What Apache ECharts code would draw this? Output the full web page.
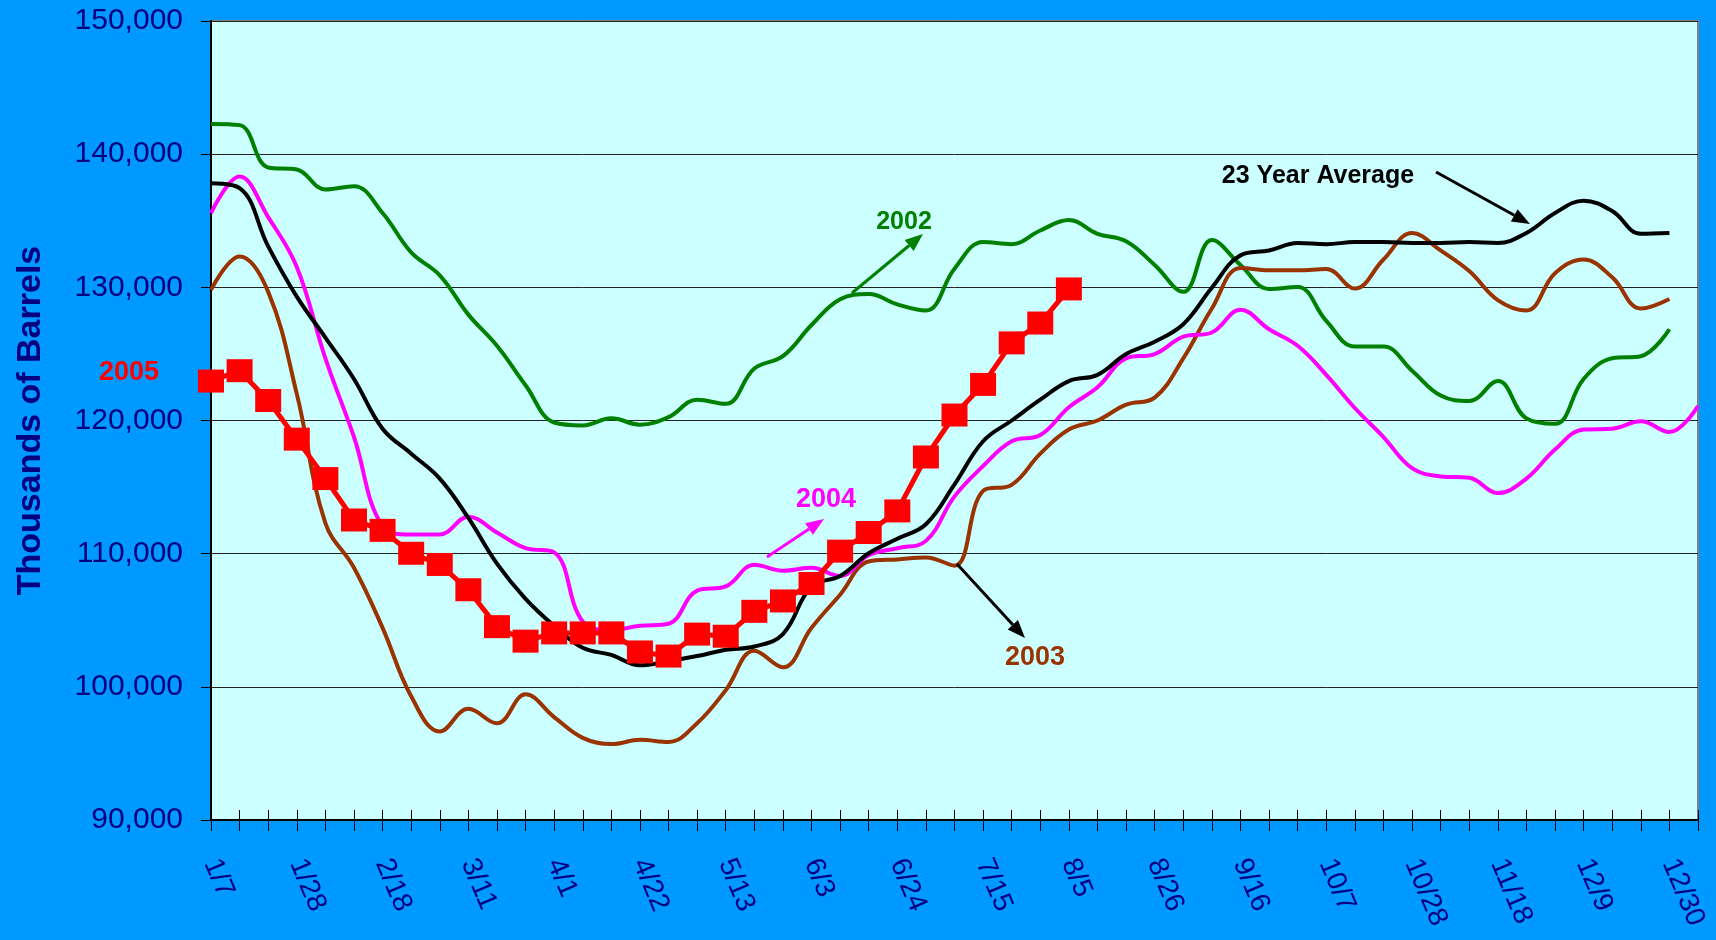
<!DOCTYPE html>
<html>
<head>
<meta charset="utf-8">
<title>Gasoline stocks</title>
<script src="https://cdn.jsdelivr.net/npm/echarts/dist/echarts.min.js"></script>
<style>
html,body{margin:0;padding:0;background:#0099FF;}
#main{width:1716px;height:940px;}
</style>
</head>
<body>
<div id="main"></div>
<script>
// weekly categories, 53 points (last one is unlabeled)
var weeks = ['1/7','1/14','1/21','1/28','2/4','2/11','2/18','2/25','3/4','3/11','3/18','3/25',
  '4/1','4/8','4/15','4/22','4/29','5/6','5/13','5/20','5/27','6/3','6/10','6/17','6/24',
  '7/1','7/8','7/15','7/22','7/29','8/5','8/12','8/19','8/26','9/2','9/9','9/16','9/23',
  '9/30','10/7','10/14','10/21','10/28','11/4','11/11','11/18','11/25','12/2','12/9',
  '12/16','12/23','12/30','1/6']

var y2002 = [142270,142180,139000,138850,137350,137600,135580,132620,130900,127950,125610,122650,
  119850,119630,120160,119690,120250,121560,121250,123900,124830,127170,129100,129500,128720,
  128260,131400,133400,133240,134270,135050,134020,133460,131680,129660,133550,131680,129880,
  130030,127480,125550,125550,123740,121870,121470,122960,120160,119750,123120,124670,124830,126850]

var y2003 = [129810,132310,129660,122000,112300,108940,104430,99290,96640,98350,97260,99440,
  97730,96170,95700,96020,95860,97270,99750,102710,101470,104430,106920,109410,109570,109720,
  109100,114710,115170,117510,119320,120000,121190,121720,124670,128410,131460,131280,131280,
  131370,129910,132090,134080,132770,131220,129040,128260,131060,132090,130750,128410,129130]

var y2004 = [135580,138320,135270,131530,124670,118760,112060,111440,111440,112770,111590,110410,
  110100,104900,104270,104580,104740,107230,107540,109160,108720,108940,108320,109880,110410,
  110960,114300,116580,118440,118910,121000,122490,124670,124990,126290,126610,128320,126850,
  125610,123430,120940,118760,116420,115800,115700,114550,115640,117820,119320,119380,119940,
  119130,121090]

var yAvg = [137820,137450,133080,129300,126230,123120,119380,117510,115640,112680,109250,106610,
  104580,102930,102400,101620,101930,102310,102780,103030,103960,107540,108320,110030,111120,
  112210,115200,118440,120000,121560,122960,123430,124990,125920,127230,129970,132400,132770,
  133330,133240,133400,133400,133330,133330,133400,133330,134080,135580,136510,135730,134020,134080]

var y2005 = [122960,123740,121500,118600,115640,112530,111750,110030,109190,107290,104520,103430,
  104050,104050,104050,102620,102310,103960,103800,105670,106450,107760,110190,111590,113210,
  117260,120410,122710,125830,127320,129880]

var chart = echarts.init(document.getElementById('main'))

// arrow for the callouts
function arrow(x1, y1, x2, y2, color) {
  var ang = Math.atan2(y2 - y1, x2 - x1)
  var len = 18, half = 7
  var bx = x2 - len * Math.cos(ang), by = y2 - len * Math.sin(ang)
  var px = -Math.sin(ang) * half, py = Math.cos(ang) * half
  return [
    {type: 'line', shape: {x1: x1, y1: y1, x2: bx, y2: by}, style: {stroke: color, lineWidth: 3}, z: 100},
    {type: 'polygon', shape: {points: [[x2, y2], [bx + px, by + py], [bx - px, by - py]]}, style: {fill: color}, z: 100}
  ]
}
function label(txt, x, y, color, size) {
  return {type: 'text', x: x, y: y, z: 100,
    style: {text: txt, fill: color, font: 'bold ' + size + 'px "Liberation Sans", Arial, sans-serif',
      textAlign: 'center', textVerticalAlign: 'middle'}}
}

var labelFont = '"Liberation Sans", Arial, sans-serif'
var graphics = [
  label('2005', 129, 373, '#FF0000', 27),
  label('2002', 904, 222, '#008000', 25),
  label('2004', 826, 500, '#FF00FF', 27),
  label('2003', 1035, 658, '#993300', 27),
  label('23 Year Average', 1318, 176, '#000000', 25)
].concat(arrow(852, 293, 923, 234, '#008000'))
 .concat(arrow(767, 557, 824, 519, '#FF00FF'))
 .concat(arrow(957, 564, 1025, 638, '#000000'))
 .concat(arrow(1436, 172, 1530, 224, '#000000'))

function lineSeries(name, data, color) {
  return {
    name: name, type: 'line', data: data, smooth: 0.4, symbol: 'none',
    lineStyle: {color: color, width: 4}, itemStyle: {color: color}
  }
}

var option = {
  animation: false,
  backgroundColor: '#0099FF',
  grid: {left: 211, top: 21, right: 18, bottom: 120, show: true, containLabel: false,
    outerBoundsMode: 'none',
    backgroundColor: '#CCFFFF', borderColor: '#808080', borderWidth: 2},
  xAxis: [{
    type: 'category', data: weeks, boundaryGap: false,
    axisLine: {lineStyle: {color: '#000', width: 2}},
    axisTick: {show: true, interval: 0, length: 11, lineStyle: {color: '#000', width: 1}},
    axisLabel: {interval: 2, rotate: -67, margin: 40, color: '#000080', fontSize: 28, fontFamily: labelFont},
    splitLine: {show: false}
  }, {
    type: 'category', data: weeks, boundaryGap: false, position: 'bottom',
    axisLine: {show: false},
    axisTick: {show: true, inside: true, interval: 0, length: 10, lineStyle: {color: '#000', width: 1}},
    axisLabel: {show: false}, splitLine: {show: false}
  }],
  yAxis: {
    type: 'value', min: 90000, max: 150000, interval: 10000,
    name: 'Thousands of Barrels', nameLocation: 'middle', nameRotate: 90, nameGap: 163,
    nameTextStyle: {color: '#000080', fontSize: 34, fontWeight: 'bold', fontFamily: labelFont},
    axisLine: {show: true, lineStyle: {color: '#000', width: 2}},
    axisTick: {show: true, length: 10, lineStyle: {color: '#000'}},
    axisLabel: {margin: 28, color: '#000080', fontSize: 30, fontFamily: labelFont,
      formatter: function (v) { return v.toLocaleString('en-US') }},
    splitLine: {lineStyle: {color: '#222', width: 1}}
  },
  series: [
    lineSeries('2002', y2002, '#008000'),
    lineSeries('2003', y2003, '#993300'),
    lineSeries('2004', y2004, '#FF00FF'),
    lineSeries('23 Year Average', yAvg, '#000000'),
    {
      name: '2005', type: 'line', data: y2005, symbol: 'rect', symbolSize: [26, 23],
      showAllSymbol: true,
      lineStyle: {color: '#FF0000', width: 5}, itemStyle: {color: '#FF0000'}, z: 5
    }
  ],
  graphic: graphics
}
chart.setOption(option)
</script>
</body>
</html>
